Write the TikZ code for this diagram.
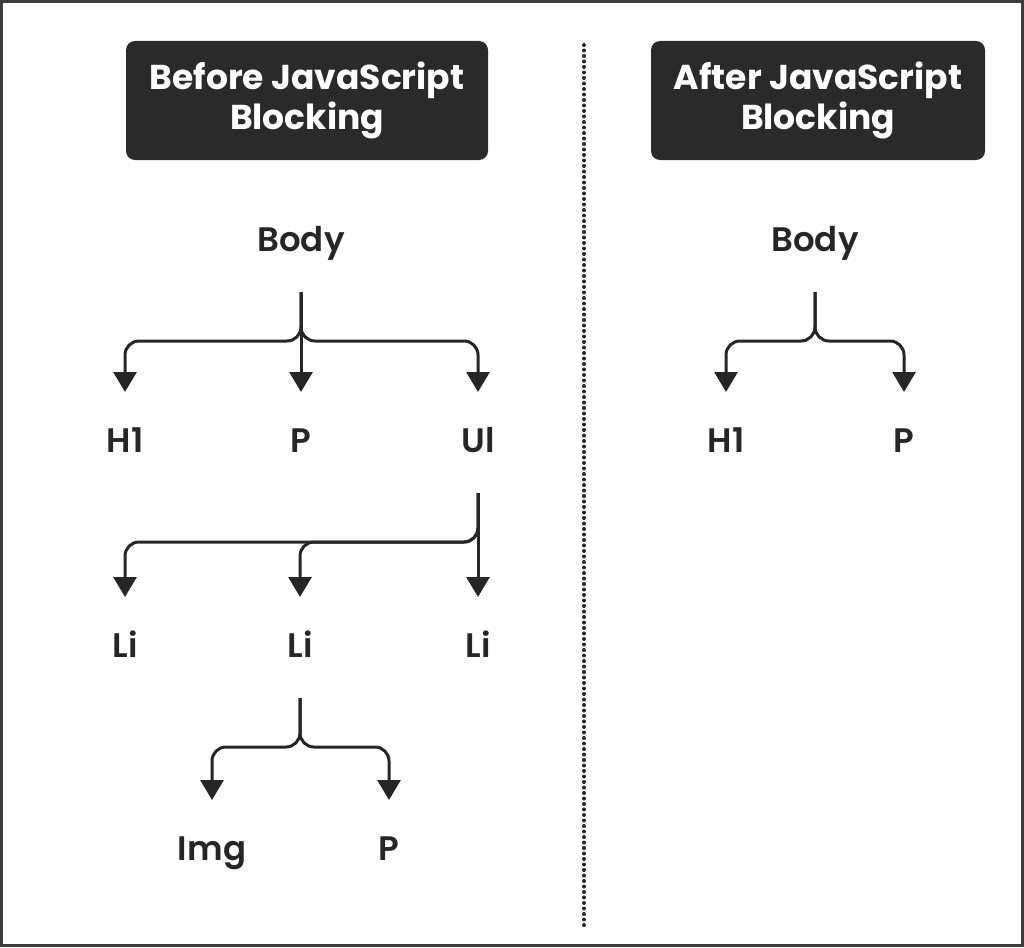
\documentclass[tikz,border=0pt]{standalone}
\usepackage{fontspec}
\setmainfont{Poppins}
\newfontfamily\labfont{Poppins SemiBold}
\usetikzlibrary{positioning,arrows.meta,calc}
\definecolor{ink}{HTML}{262626}
\definecolor{boxfill}{HTML}{2A2A2A}
\tikzset{
  >={Triangle[length=20pt,width=23pt]},
  title/.style={fill=boxfill, text=white, rounded corners=9pt, align=center,
    minimum height=119pt, font=\fontsize{34.5}{40}\selectfont\bfseries},
  tag/.style={anchor=base, text=ink, inner sep=0pt, font=\labfont\fontsize{34}{36}\selectfont},
  link/.style={draw=ink, line width=3pt, ->, rounded corners=14pt},
}

\begin{document}
\begin{tikzpicture}[x=1pt,y=-1pt]
\useasboundingbox (0,0) rectangle (1024,947);
\draw[ink!90, line width=3pt] (1.5,1.5) rectangle (1022.5,945.5);
\draw[ink, line width=4pt, line cap=round, dash pattern=on 0pt off 5.5pt] (584,45) -- (584,925);

% headers
\node[title, minimum width=362pt] (before) at (307,100.5) {Before JavaScript\\Blocking};
\node[title, minimum width=334pt] (after) at (818,100.5) {After JavaScript\\Blocking};

% left tree
\node[tag] (body) at (301,251) {Body};
\node[tag] (h1) at (125,452) {H1};
\node[tag] (pa) at (301,452) {P};
\node[tag] (ul) at (478,452) {Ul};
\node[tag] (lia) at (125,657) {Li};
\node[tag] (lib) at (300,657) {Li};
\node[tag] (lic) at (478,657) {Li};
\node[tag] (img) at (212,860) {Img};
\node[tag] (pb) at (389,860) {P};

% right tree
\node[tag] (rbody) at (815,251) {Body};
\node[tag] (rh1) at (726,452) {H1};
\node[tag] (rp) at (904,452) {P};

\foreach \p/\c in {body/h1,body/ul,ul/lia,ul/lib,lib/img,lib/pb,rbody/rh1,rbody/rp}
  \draw[link] ($(\p.base)+(0,41)$) |- ($(\c.base |- \p.base)+(0,90)$) -- ($(\c.base)+(0,-60)$);
\foreach \p/\c in {body/pa,ul/lic}
  \draw[link] ($(\p.base)+(0,41)$) -- ($(\c.base)+(0,-60)$);
\end{tikzpicture}
\end{document}
